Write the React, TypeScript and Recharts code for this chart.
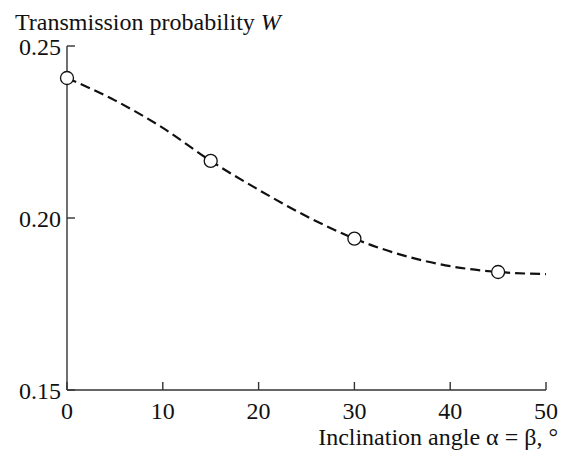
import React from "react";
import { ComposedChart, Line, Scatter, XAxis, YAxis } from "recharts";

// measured points (circles)
const pointAngles = [0, 15, 30, 45];
const pointValues = [0.2407, 0.2166, 0.1940, 0.1843];

// dashed fit curve
const curveAngles = [0, 5, 10, 15, 20, 25, 30, 35, 40, 45, 50];
const curveValues = [0.2407, 0.2342, 0.2262, 0.2166, 0.2082, 0.2005, 0.1940, 0.1892, 0.1860, 0.1843, 0.1837];

const xTicks = [0, 10, 20, 30, 40, 50];
const yTicks = [0.15, 0.2, 0.25];

const FONT = "'Liberation Serif', 'Times New Roman', serif";
const INK = "#111";

const points = pointAngles.map((x, i) => ({ x, y: pointValues[i] }));
const curve = curveAngles.map((x, i) => ({ x, y: curveValues[i] }));

const Ring = (p: any) => (
  <circle cx={p.cx} cy={p.cy} r={6.5} fill="#fff" stroke={INK} strokeWidth={1.3} />
);

export default function App() {
  const tickStyle = { fontFamily: FONT, fontSize: 24, fill: INK };
  return (
    <div style={{ position: "absolute", left: 0, top: 0, width: 561, height: 457, background: "#fff" }}>
      <ComposedChart width={561} height={457} margin={{ top: 46, right: 15, left: 0, bottom: 0 }}>
        <XAxis
          type="number"
          dataKey="x"
          domain={[0, 50]}
          ticks={xTicks}
          height={67}
          tickSize={-8}
          tickMargin={20}
          tick={tickStyle}
          axisLine={{ stroke: "#333", strokeWidth: 1.4 }}
          tickLine={{ stroke: "#333", strokeWidth: 1.4 }}
        />
        <YAxis
          type="number"
          dataKey="y"
          domain={[0.15, 0.25]}
          ticks={yTicks}
          width={67}
          tickSize={-8}
          tickMargin={14}
          tick={tickStyle}
          tickFormatter={(v: number) => v.toFixed(2)}
          axisLine={{ stroke: "#333", strokeWidth: 1.4 }}
          tickLine={{ stroke: "#333", strokeWidth: 1.4 }}
        />
        <Line
          data={curve}
          dataKey="y"
          type="monotone"
          stroke={INK}
          strokeWidth={2.2}
          strokeDasharray="10 5"
          dot={false}
          activeDot={false}
          isAnimationActive={false}
        />
        <Scatter data={points} dataKey="y" shape={Ring} isAnimationActive={false} />
      </ComposedChart>
      <svg width={561} height={457} style={{ position: "absolute", left: 0, top: 0, pointerEvents: "none" }}>
        <text x={15} y={30} fontFamily={FONT} fontSize={24} fill={INK}>
          Transmission probability <tspan fontStyle="italic">W</tspan>
        </text>
        <text x={558} y={445} textAnchor="end" fontFamily={FONT} fontSize={24} fill={INK}>
          Inclination angle α = β, °
        </text>
      </svg>
    </div>
  );
}
